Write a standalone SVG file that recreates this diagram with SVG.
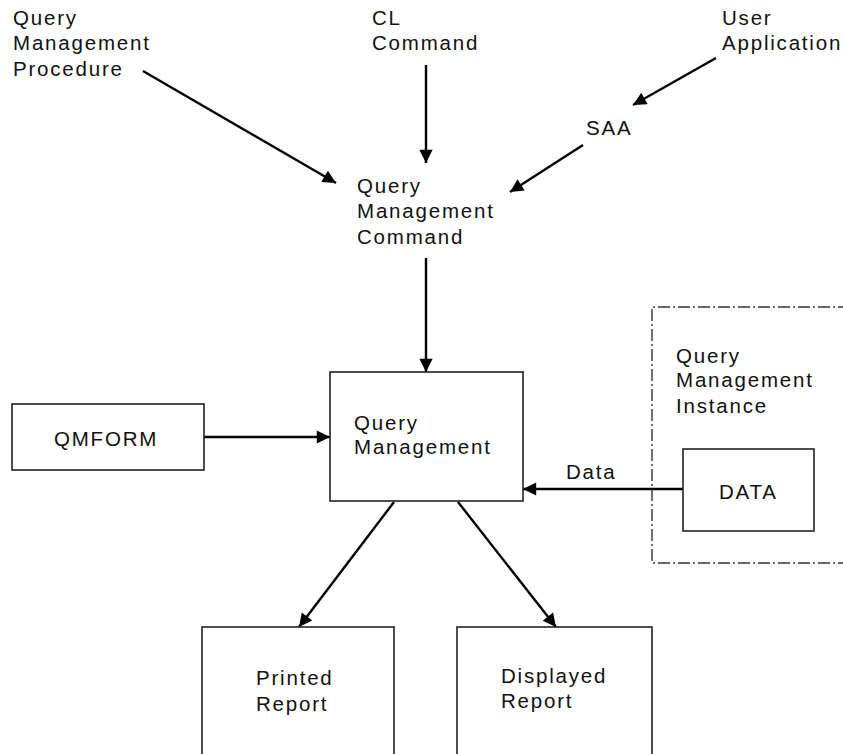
<svg xmlns="http://www.w3.org/2000/svg" width="843" height="754" viewBox="0 0 843 754">
<defs>
<marker id="ah" viewBox="0 0 10 10" refX="10" refY="5" markerWidth="6.5" markerHeight="5.5" markerUnits="strokeWidth" orient="auto">
<path d="M0,0 L10,5 L0,10 Z" fill="#000"/>
</marker>
<style>
text{font-family:"Liberation Sans",Arial,sans-serif;font-size:20.5px;letter-spacing:1.8px;fill:#111}
.box{fill:#fff;stroke:#222;stroke-width:1.6}
.dash{fill:none;stroke:#333;stroke-width:1.4;stroke-dasharray:12 3 2 3}
.conn{stroke:#000;stroke-width:2.4;fill:none;marker-end:url(#ah)}
</style>
</defs>
<rect width="843" height="754" fill="#fff"/>
<g id="connectors">
<line class="conn" x1="143" y1="71" x2="336" y2="183"/>
<line class="conn" x1="426" y1="65" x2="426" y2="163"/>
<line class="conn" x1="716" y1="58" x2="633" y2="105"/>
<line class="conn" x1="583" y1="145" x2="510" y2="192"/>
<line class="conn" x1="426" y1="258" x2="426" y2="372"/>
<line class="conn" x1="204" y1="437" x2="330" y2="437"/>
<line class="conn" x1="683" y1="489" x2="523" y2="489"/>
<line class="conn" x1="394" y1="502" x2="299" y2="627"/>
<line class="conn" x1="458" y1="502" x2="556" y2="627"/>
</g>
<g id="qm-procedure">
<text x="13" y="25">Query</text>
<text x="13" y="50">Management</text>
<text x="13" y="76">Procedure</text>
</g>
<g id="cl-command">
<text x="372" y="25">CL</text>
<text x="372" y="50">Command</text>
</g>
<g id="user-application">
<text x="722" y="25">User</text>
<text x="722" y="50">Application</text>
</g>
<g id="saa">
<text x="586" y="135">SAA</text>
</g>
<g id="qm-command">
<text x="357" y="193">Query</text>
<text x="357" y="218">Management</text>
<text x="357" y="244">Command</text>
</g>
<g id="qmform">
<rect class="box" x="12" y="404" width="192" height="66"/>
<text x="54" y="446">QMFORM</text>
</g>
<g id="query-management">
<rect class="box" x="330" y="372" width="193" height="129"/>
<text x="354" y="430">Query</text>
<text x="354" y="454">Management</text>
</g>
<g id="qm-instance">
<path class="dash" d="M850,307 H652 V563 H850"/>
<text x="676" y="363">Query</text>
<text x="676" y="387">Management</text>
<text x="676" y="413">Instance</text>
</g>
<g id="data">
<rect class="box" x="683" y="449" width="131" height="82"/>
<text x="719" y="499">DATA</text>
</g>
<g id="data-label">
<text x="566" y="479">Data</text>
</g>
<g id="printed-report">
<rect class="box" x="202" y="627" width="192" height="140"/>
<text x="256" y="685">Printed</text>
<text x="256" y="711">Report</text>
</g>
<g id="displayed-report">
<rect class="box" x="457" y="627" width="195" height="140"/>
<text x="501" y="683">Displayed</text>
<text x="501" y="708">Report</text>
</g>
</svg>
